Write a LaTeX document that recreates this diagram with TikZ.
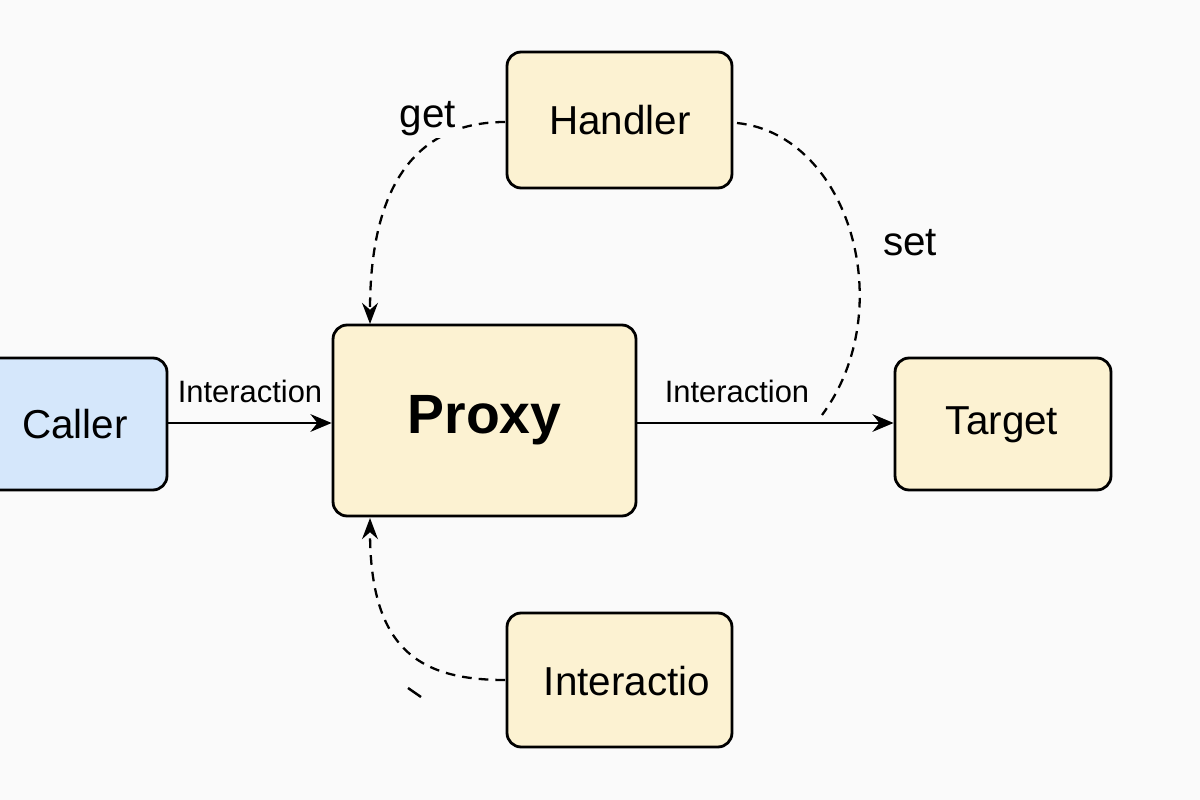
\documentclass[tikz,border=0pt]{standalone}
\usepackage{fontspec}
\setmainfont{Liberation Sans}
\usetikzlibrary{arrows.meta,calc}
\definecolor{bg}{HTML}{FAFAFA}
\definecolor{cream}{HTML}{FCF2D2}
\definecolor{lblue}{HTML}{D5E7FB}
\tikzset{
  box/.style={draw=black, line width=1.6pt, rounded corners=8pt, fill=cream, inner sep=0pt, font=\fontsize{22.5}{26}\selectfont},
  arr/.style={line width=1.7pt, -{Stealth[length=12pt,width=10pt]}},
  dsh/.style={line width=1.3pt, dash pattern=on 5.5pt off 4pt},
  darr/.style={dsh, -{Stealth[length=12pt,width=9pt]}},
  lbl/.style={font=\fontsize{17.6}{20}\selectfont, inner sep=0pt},
  big/.style={font=\fontsize{23}{26}\selectfont, inner sep=0pt}
}
\begin{document}
\begin{tikzpicture}[x=0.02cm,y=-0.02cm]
\useasboundingbox (0,0) rectangle (1200,800);
\clip (0,0) rectangle (1200,800);
\fill[bg] (0,0) rectangle (1200,800);
\node[box, fill=lblue, minimum width=3.74cm, minimum height=2.64cm] (caller) at (73.5,424) {};
\node[big] (callert) at (75,424) {Caller};
\node[box, minimum width=6.06cm, minimum height=3.82cm, font=\fontsize{31.5}{34}\selectfont\bfseries] (proxy) at (484.5,420.5) {Proxy};
\node[box, minimum width=4.5cm, minimum height=2.72cm] (handler) at (619.5,120) {};
\node[big] (handlert) at (620,120) {Handler};
\node[box, minimum width=4.32cm, minimum height=2.64cm] (target) at (1003,424) {};
\node[big] (targett) at (1002,425) {Target};
\node[box, minimum width=4.5cm, minimum height=2.68cm] (inter) at (619.5,680) {};
\node[big] (intert) at (627,681) {Interactio};
\draw[arr] (caller.east |- 0,423) -- (proxy.west |- 0,423);
\draw[arr] (proxy.east |- 0,423) -- (target.west |- 0,423);
\node[lbl] (l1) at (250,391) {Interaction};
\node[lbl] (l2) at (737,391) {Interaction};
\coordinate (gs) at (505,122);
\coordinate (ge) at (370,324);
\draw[darr] (gs) .. controls (420,122) and (370,180) .. (ge);
\node[big, fill=bg, inner sep=1pt] (get) at (428,119) {get};
\coordinate (ss) at (737,123);
\coordinate (se) at (822,415);
\draw[dsh] (ss) .. controls (850,135) and (900,310) .. (se);
\node[big] (set) at (910,243) {set};
\coordinate (bs) at (505,680);
\coordinate (be) at (370,518);
\draw[darr] (bs) .. controls (420,680) and (370,650) .. (be);
\coordinate (sd1) at (408,688);
\coordinate (sd2) at (421,697);
\draw[line width=1.4pt] (sd1) -- (sd2);
\end{tikzpicture}
\end{document}
